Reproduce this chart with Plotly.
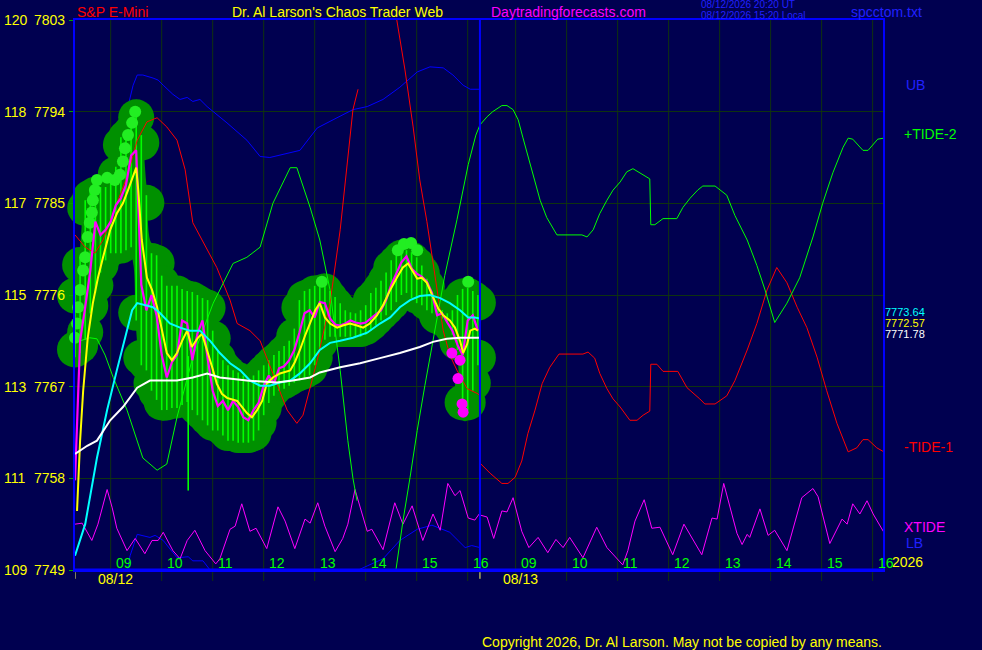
import plotly.graph_objects as go

# session clock (hours) -> axis position; 08/13 follows 08/12 directly
OPEN = 8.3
DAY2 = 7.94


def pos(hours, day=1):
    off = -OPEN + (DAY2 if day == 2 else 0.0)
    return [None if h is None else round(h + off, 3) for h in hours]


# ---- 08/12 bars (one every 6 minutes) ---------------------------------
bar_hours = [OPEN + 0.1 * i for i in range(80)]
bar_close = [7757.8, 7771.5, 7774.8, 7778.4, 7783.2, 7781.9, 7782.4, 7783.2, 7784.8, 7785.5,
             7786.8, 7789.7, 7790.2, 7777.0, 7774.5, 7776.0, 7774.0, 7770.1, 7767.9, 7769.4,
             7770.1, 7773.5, 7773.2, 7769.6, 7772.2, 7773.5, 7769.8, 7766.6, 7765.1, 7765.6,
             7764.7, 7765.6, 7765.0, 7764.0, 7763.7, 7764.7, 7765.4, 7767.1, 7768.1, 7767.3,
             7768.8, 7769.0, 7769.6, 7770.6, 7772.3, 7774.2, 7774.5, 7773.8, 7775.3, 7775.2,
             7773.7, 7773.1, 7773.0, 7773.2, 7773.5, 7773.3, 7773.2, 7773.3, 7773.7, 7774.1,
             7774.5, 7775.5, 7777.0, 7778.1, 7779.2, 7779.8, 7778.6, 7778.1, 7777.8, 7777.3,
             7776.2, 7774.0, 7774.2, 7773.3, 7772.5, 7771.1, 7770.1, 7773.5, 7774.0, 7772.5]
bar_high = [7777.7, 7780.7, 7786.3, 7787.3, 7787.6, 7787.6, 7787.6, 7788.0, 7789.6, 7792.5,
            7793.2, 7793.7, 7795.2, 7792.7, 7786.8, 7781.1, 7780.9, 7778.9, 7777.9, 7777.9,
            7777.9, 7777.6, 7777.4, 7777.3, 7777.0, 7776.7, 7776.5, 7773.5, 7771.5, 7770.6,
            7770.1, 7769.6, 7769.4, 7769.1, 7768.6, 7769.1, 7769.6, 7770.1, 7770.6, 7771.1,
            7771.5, 7772.0, 7772.5, 7773.7, 7776.5, 7777.4, 7777.6, 7777.9, 7777.9, 7778.1,
            7777.4, 7776.8, 7776.2, 7775.5, 7775.3, 7775.2, 7775.5, 7776.0, 7777.2, 7777.7,
            7778.4, 7779.2, 7780.4, 7780.9, 7781.4, 7781.4, 7781.2, 7780.7, 7779.9, 7778.6,
            7777.0, 7775.7, 7775.5, 7775.2, 7775.5, 7777.0, 7777.6, 7777.7, 7777.4, 7777.0]
bar_low = [7768.9, 7769.3, 7770.6, 7773.2, 7775.2, 7777.2, 7778.4, 7779.1, 7779.1, 7779.1,
           7779.4, 7779.7, 7772.5, 7768.1, 7767.6, 7765.6, 7764.7, 7763.7, 7763.7, 7763.9,
           7763.9, 7764.2, 7764.5, 7763.7, 7763.2, 7762.7, 7762.2, 7761.7, 7761.7, 7761.2,
           7760.7, 7760.7, 7760.5, 7760.5, 7760.5, 7760.7, 7761.7, 7763.2, 7764.4, 7765.1,
           7765.6, 7765.8, 7766.1, 7766.4, 7766.6, 7766.8, 7767.1, 7768.1, 7769.6, 7770.6,
           7770.9, 7770.9, 7770.9, 7770.9, 7770.9, 7770.9, 7770.9, 7771.1, 7771.5, 7772.0,
           7772.5, 7773.0, 7773.5, 7774.3, 7775.0, 7775.2, 7774.7, 7774.2, 7774.0, 7773.5,
           7773.2, 7773.0, 7772.7, 7772.3, 7771.1, 7769.6, 7763.7, 7763.7, 7765.6, 7768.1]

# bright "high" dots and recent-low dots
dot_hours = [8.26, 8.30, 8.34, 8.36, 8.40, 8.46, 8.50, 8.55, 8.59, 8.63, 8.65, 8.69, 8.73,
             8.93, 9.08, 9.18, 9.24, 9.28, 9.34, 9.42, 9.48, 13.14, 14.63, 14.75, 14.89,
             15.01, 16.01]
dot_price = [7770.9, 7771.8, 7773.2, 7774.8, 7776.5, 7778.4, 7779.7, 7781.7, 7783.1, 7784.1,
             7785.3, 7786.3, 7787.3, 7787.5, 7787.3, 7787.8, 7789.1, 7790.4, 7791.7, 7792.9,
             7794.0, 7777.3, 7780.4, 7781.0, 7781.1, 7780.4, 7777.3]
low_hours = [15.69, 15.85, 15.81, 15.89, 15.91]
low_price = [7770.3, 7769.6, 7767.8, 7765.3, 7764.5]
spike_hours = [10.52]
spike_low = [7756.8]
spike_high = [7770.0]

# ---- averages (08/12) --------------------------------------------------
yel_hours = [8.34, 8.40, 8.46, 8.55, 8.65, 8.75, 8.85, 8.99, 9.12, 9.24, 9.34, 9.44, 9.50,
             9.54, 9.61, 9.71, 9.81, 9.91, 10.01, 10.10, 10.20, 10.30, 10.40, 10.50, 10.59,
             10.71, 10.79, 10.89, 10.99, 11.08, 11.18, 11.28, 11.48, 11.67, 11.77, 11.87,
             11.97, 12.06, 12.18, 12.32, 12.52, 12.61, 12.71, 12.81, 12.91, 13.01, 13.10,
             13.20, 13.30, 13.44, 13.55, 13.69, 13.83, 13.95, 14.08, 14.22, 14.34, 14.48,
             14.61, 14.73, 14.83, 14.91, 15.01, 15.10, 15.20, 15.32, 15.42, 15.52, 15.65,
             15.75, 15.85, 15.91, 15.99, 16.05, 16.14, 16.20]
yel_price = [7754.8, 7761.7, 7766.6, 7771.8, 7775.2, 7777.7, 7779.7, 7782.4, 7784.0, 7785.0,
             7786.3, 7787.6, 7788.5, 7786.3, 7781.4, 7777.7, 7776.5, 7774.8, 7772.5, 7770.3,
             7769.6, 7770.3, 7771.5, 7772.5, 7770.9, 7771.8, 7772.2, 7770.6, 7768.9, 7767.3,
             7766.3, 7765.9, 7765.6, 7764.4, 7764.0, 7764.7, 7765.6, 7767.3, 7767.9, 7768.3,
             7768.6, 7769.4, 7770.6, 7772.0, 7773.3, 7774.5, 7775.2, 7773.8, 7773.2, 7772.8,
             7773.0, 7773.2, 7773.0, 7772.8, 7773.2, 7774.0, 7775.0, 7776.5, 7777.7, 7778.7,
             7779.1, 7778.4, 7777.6, 7777.7, 7777.2, 7775.8, 7774.7, 7774.0, 7773.5, 7772.8,
             7771.5, 7770.3, 7771.2, 7772.5, 7772.7, 7772.5]
cyan_hours = [8.30, 8.50, 8.73, 8.93, 9.12, 9.32, 9.42, 9.52, 9.71, 9.83, 9.97, 10.16, 10.36,
              10.55, 10.75, 10.95, 11.14, 11.34, 11.54, 11.73, 11.93, 12.12, 12.32, 12.52,
              12.71, 12.91, 13.10, 13.30, 13.50, 13.75, 14.03, 14.28, 14.48, 14.67, 14.87,
              15.06, 15.26, 15.46, 15.65, 15.85, 16.01, 16.14, 16.24]
cyan_price = [7750.4, 7753.5, 7760.0, 7764.7, 7768.6, 7772.5, 7774.5, 7775.2, 7775.0, 7774.8,
              7774.2, 7773.2, 7772.8, 7772.5, 7772.5, 7771.5, 7770.3, 7769.3, 7768.6, 7767.6,
              7767.1, 7767.1, 7767.4, 7767.6, 7768.3, 7769.3, 7770.6, 7771.3, 7771.5, 7771.8,
              7772.3, 7773.2, 7773.8, 7774.8, 7775.5, 7775.9, 7776.0, 7775.7, 7775.2, 7774.5,
              7773.8, 7773.8, 7773.7]
white_hours = [8.30, 8.54, 8.73, 8.99, 9.24, 9.52, 9.77, 10.30, 10.61, 10.89, 11.14, 11.67,
               12.26, 12.57, 12.91, 13.10, 13.50, 13.89, 14.28, 14.67, 15.06, 15.32, 15.59,
               15.85, 16.24]
white_price = [7760.4, 7761.2, 7761.7, 7763.7, 7765.0, 7766.9, 7767.6, 7767.6, 7767.9, 7768.3,
               7767.9, 7767.6, 7767.4, 7767.6, 7767.9, 7768.4, 7768.9, 7769.3, 7769.8, 7770.3,
               7770.9, 7771.4, 7771.7, 7771.8, 7771.8]

# ---- bands (08/12 only) --------------------------------------------------
ub_hours = [8.99, 9.18, 9.32, 9.44, 9.52, 9.63, 9.83, 9.93, 10.03, 10.22, 10.36, 10.50,
            10.61, 10.75, 10.89, 11.28, 11.67, 11.93, 12.12, 12.57, 12.71, 12.91, 13.05,
            13.36, 13.75, 14.03, 14.34, 14.67, 15.01, 15.26, 15.52, 15.71, 15.91, 16.05, 16.24]
ub_price = [7787.3, 7791.2, 7794.2, 7796.6, 7797.6, 7797.6, 7797.3, 7797.1, 7796.6, 7795.7,
            7795.2, 7795.4, 7795.0, 7795.2, 7794.5, 7792.9, 7791.2, 7789.6, 7789.5, 7790.0,
            7790.2, 7791.5, 7792.4, 7793.2, 7794.2, 7794.5, 7795.2, 7796.4, 7797.9, 7798.4,
            7798.3, 7797.6, 7796.6, 7796.2, 7796.2]
lb_hours = [9.32, 9.38, 9.52, 9.77, 9.87, 10.03, 10.30, 10.52, 10.61, 10.81, 11.04, 13.59,
            14.03, 14.34, 14.67, 15.01, 15.30, 15.65, 15.95, 16.08, 16.24]
lb_price = [7748.7, 7750.4, 7752.5, 7752.2, 7752.4, 7751.9, 7750.2, 7750.3, 7749.9, 7749.9,
            7748.4, 7748.4, 7749.4, 7750.1, 7751.9, 7753.0, 7753.4, 7752.7, 7751.2, 7751.4,
            7751.2]

# ---- tides ---------------------------------------------------------------
red1_hours = [8.30, 8.50, 8.69, 8.85, 9.12, 9.32, 9.52, 9.71, 9.91, 10.10, 10.30, 10.46,
              10.61, 10.85, 11.08, 11.34, 11.48, 11.73, 11.93, 12.18, 12.46, 12.65, 12.77,
              13.05, 13.30, 13.50, 13.65, 13.75, 13.85, None, 14.61, 14.77, 14.93, 15.06,
              15.20, 15.40, 15.52, 15.65, 15.79, 15.99, 16.20, 16.24]
red1_price = [7781.9, 7780.7, 7780.1, 7781.4, 7785.0, 7787.6, 7791.2, 7793.0, 7793.4, 7792.5,
              7791.2, 7788.3, 7783.1, 7780.9, 7778.7, 7775.5, 7773.2, 7772.5, 7771.5, 7768.3,
              7764.7, 7763.4, 7764.2, 7769.6, 7775.2, 7782.4, 7789.3, 7794.2, 7796.2, None,
              7803.0, 7798.1, 7792.5, 7787.3, 7783.2, 7776.8, 7772.5, 7770.1, 7768.6, 7766.8,
              7766.3, 7766.1]
red2_hours = [8.30, 8.50, 8.73, 8.85, 8.99, 9.12, 9.24, 9.38, 9.52, 9.67, 9.85, 10.32, 10.42,
              10.55, 10.65, 10.79, 10.91, 11.05, 11.24, 11.38, 11.50, 11.63, 11.65, 11.77,
              11.89, 12.18, 12.36, 12.61, 12.71, 12.91, 13.14, 13.30, 13.54, 13.73, 13.93,
              14.12, 14.32, 14.52, 14.71, 14.91, 15.10, 15.30, 15.52, 15.69, 15.81, 15.91,
              16.08, 16.22]
red2_price = [7759.5, 7758.5, 7757.5, 7757.5, 7758.1, 7759.7, 7762.4, 7764.7, 7767.3, 7768.9,
              7770.2, 7770.2, 7770.4, 7769.8, 7768.3, 7766.8, 7765.8, 7765.0, 7763.7, 7763.7,
              7764.2, 7764.6, 7769.2, 7769.2, 7768.5, 7768.5, 7766.9, 7765.8, 7765.3, 7765.3,
              7766.1, 7767.6, 7770.6, 7773.2, 7776.5, 7778.7, 7777.2, 7774.8, 7772.8, 7769.9,
              7766.6, 7763.4, 7760.6, 7761.0, 7761.8, 7761.8, 7761.0, 7760.6]
grn1_hours = [8.40, 8.59, 8.73, 8.89, 9.05, 9.32, 9.63, 9.91, 10.10, 10.30, 10.61, 11.01,
              11.40, 11.67, 11.93, 12.18, 12.52, 12.65, 12.91, 13.10, 13.30, 13.50, 13.65,
              13.75, 13.83, None, 14.59, 14.73, 14.87, 15.01, 15.16, 15.36, 15.55, 15.79,
              16.01, 16.16, 16.24]
grn1_price = [7771.5, 7771.8, 7771.7, 7770.1, 7767.9, 7764.7, 7760.0, 7758.8, 7759.4, 7764.0,
              7769.9, 7775.2, 7779.1, 7779.7, 7780.7, 7785.0, 7788.5, 7788.5, 7784.6, 7781.4,
              7776.5, 7768.6, 7761.7, 7758.0, 7755.8, None, 7748.9, 7753.8, 7758.1, 7762.7,
              7767.1, 7772.5, 7777.9, 7783.4, 7788.8, 7791.7, 7792.7]
grn2_hours = [8.30, 8.44, 8.55, 8.73, 8.83, 8.95, 9.05, 9.14, 9.28, 9.38, 9.48, 9.61, 9.81,
              10.30, 10.40, 10.52, 10.65, 10.79, 10.91, 11.05, 11.18, 11.30, 11.50, 11.63,
              11.65, 11.73, 11.89, 12.16, 12.28, 12.42, 12.57, 12.67, 12.91, 13.14, 13.30,
              13.54, 13.73, 13.89, 14.08, 14.32, 14.57, 14.83, 15.02, 15.22, 15.42, 15.52,
              15.61, 15.81, 15.91, 16.10, 16.22]
grn2_price = [7792.7, 7793.5, 7794.0, 7794.6, 7794.6, 7794.2, 7793.2, 7791.5, 7789.0, 7787.0,
              7785.3, 7783.6, 7781.9, 7781.9, 7781.7, 7782.4, 7784.0, 7785.3, 7786.3, 7787.1,
              7788.1, 7788.4, 7787.8, 7787.4, 7782.9, 7782.9, 7783.5, 7783.5, 7784.6, 7785.5,
              7786.3, 7786.7, 7786.7, 7785.8, 7783.8, 7781.4, 7778.9, 7776.5, 7773.3, 7775.2,
              7777.7, 7781.7, 7785.0, 7788.0, 7790.5, 7791.4, 7791.3, 7790.2, 7790.2, 7791.3,
              7791.4]
xt1_hours = [8.30, 8.44, 8.63, 8.75, 8.93, 9.03, 9.12, 9.32, 9.48, 9.67, 9.81, 9.93, 10.03,
             10.22, 10.36, 10.50, 10.65, 10.85, 11.06, 11.14, 11.34, 11.44, 11.57, 11.73,
             11.85, 12.06, 12.28, 12.42, 12.61, 12.81, 12.91, 13.06, 13.20, 13.40, 13.55,
             13.65, 13.79, 14.03, 14.12, 14.34, 14.57, 14.73, 14.91, 15.12, 15.32, 15.46,
             15.61, 15.75, 15.85, 16.01, 16.14, 16.24]
xt1_price = [7753.5, 7753.6, 7751.9, 7753.5, 7756.9, 7755.1, 7753.1, 7750.9, 7752.1, 7750.6,
             7751.9, 7751.9, 7752.7, 7750.9, 7750.1, 7751.9, 7752.9, 7750.9, 7749.6, 7750.1,
             7753.0, 7753.3, 7755.5, 7752.8, 7753.1, 7751.1, 7755.2, 7753.8, 7751.1, 7754.0,
             7753.6, 7755.6, 7753.3, 7750.8, 7752.1, 7753.5, 7756.9, 7752.8, 7753.0, 7751.0,
             7755.6, 7753.5, 7755.3, 7751.9, 7754.5, 7752.9, 7757.5, 7756.3, 7756.8, 7754.1,
             7753.9, 7754.6]
xt2_hours = [8.30, 8.44, 8.57, 8.73, 8.83, 8.95, 9.12, 9.26, 9.44, 9.63, 9.79, 9.93, 10.06,
             10.32, 10.59, 10.79, 11.10, 11.20, 11.34, 11.52, 11.67, 11.83, 12.08, 12.30,
             12.65, 12.85, 12.95, 13.08, 13.34, 13.44, 13.54, 13.59, 13.79, 13.95, 14.08,
             14.32, 14.61, 14.83, 14.93, 15.16, 15.40, 15.50, 15.61, 15.75, 15.89, 16.01, 16.22]
xt2_price = [7754.4, 7754.2, 7752.1, 7754.8, 7754.7, 7756.1, 7752.8, 7751.2, 7752.2, 7750.7,
             7752.0, 7751.2, 7752.2, 7750.2, 7753.2, 7751.2, 7749.5, 7750.9, 7753.8, 7755.9,
             7753.1, 7753.2, 7750.5, 7753.5, 7750.5, 7754.1, 7754.0, 7757.5, 7752.6, 7751.5,
             7752.5, 7752.2, 7755.0, 7752.4, 7752.9, 7750.9, 7756.1, 7757.0, 7756.2, 7751.6,
             7754.0, 7753.5, 7755.5, 7754.5, 7755.8, 7754.5, 7752.7]

# ---- axis text -----------------------------------------------------------
price_ticks = [7803, 7794, 7785, 7776, 7767, 7758, 7749]
alt_ticks = ["120", "118", "117", "115", "113", "111", "109"]
hour_marks = [9, 10, 11, 12, 13, 14, 15, 16]
last_values = ["7773.64", "7772.57", "7771.78"]

BG = "#000050"
DKGREEN = "#009000"
BLUE = "#0000ff"
GRID = "#0f320f"
FONT = "Liberation Sans, Arial, sans-serif"

fig = go.Figure()

# bands
fig.add_trace(go.Scatter(x=pos(ub_hours), y=ub_price, mode="lines", line=dict(color=BLUE, width=1)))
fig.add_trace(go.Scatter(x=pos(lb_hours), y=lb_price, mode="lines", line=dict(color=BLUE, width=1)))
# xtide
fig.add_trace(go.Scatter(x=pos(xt1_hours) + pos(xt2_hours, 2), y=xt1_price + xt2_price,
                         mode="lines", line=dict(color="#ff00ff", width=1)))

# bar envelope (dark green blobs)
tb = pos(bar_hours)
fig.add_trace(go.Scatter(x=tb, y=bar_high, mode="lines", line=dict(width=0, shape="spline")))
fig.add_trace(go.Scatter(x=tb, y=bar_low, mode="lines", line=dict(width=0, shape="spline"),
                         fill="tonexty", fillcolor=DKGREEN))
r = 1.75
fig.add_trace(go.Scatter(x=tb + tb, y=[v - r for v in bar_high] + [v + r for v in bar_low],
                         mode="markers", marker=dict(size=36, color=DKGREEN, line_width=0),
                         cliponaxis=False))

# tick spikes
sx, sy = [], []
for t, hi, lo in zip(tb, bar_high, bar_low):
    sx += [t, t, None]
    sy += [hi - 1.0, lo + 1.0, None]
for t, hi, lo in zip(pos(spike_hours), spike_high, spike_low):
    sx += [t, t, None]
    sy += [hi, lo, None]
fig.add_trace(go.Scatter(x=sx, y=sy, mode="lines", line=dict(color="#00ff00", width=1.6)))
fig.add_trace(go.Scatter(x=pos(dot_hours), y=dot_price, mode="markers",
                         marker=dict(size=12, color="#22ee22", line_width=0), cliponaxis=False))

# tides
fig.add_trace(go.Scatter(x=pos(red1_hours) + pos(red2_hours, 2), y=red1_price + red2_price,
                         mode="lines", line=dict(color="#ff0000", width=1)))
fig.add_trace(go.Scatter(x=pos(grn1_hours) + pos(grn2_hours, 2), y=grn1_price + grn2_price,
                         mode="lines", line=dict(color="#00ff00", width=1)))

# price and averages
fig.add_trace(go.Scatter(x=tb, y=bar_close, mode="lines", line=dict(color="#ff00ff", width=2.2)))
fig.add_trace(go.Scatter(x=pos(low_hours), y=low_price, mode="markers",
                         marker=dict(size=11, color="#ff00ff", line_width=0)))
fig.add_trace(go.Scatter(x=pos(yel_hours), y=yel_price, mode="lines", line=dict(color="#ffff00", width=2)))
fig.add_trace(go.Scatter(x=pos(cyan_hours), y=cyan_price, mode="lines", line=dict(color="#00ffff", width=2)))
fig.add_trace(go.Scatter(x=pos(white_hours), y=white_price, mode="lines", line=dict(color="#ffffff", width=2)))

# grid: hour lines for both sessions
shapes = []
for day in (1, 2):
    for x in pos(hour_marks, day):
        shapes.append(dict(type="line", xref="x", yref="paper", x0=x, x1=x, y0=-0.02, y1=1,
                           line=dict(color=GRID, width=1), layer="below"))
shapes.append(dict(type="line", xref="x", yref="paper", x0=DAY2, x1=DAY2, y0=0, y1=1,
                   line=dict(color=BLUE, width=2)))
shapes.append(dict(type="line", xref="paper", yref="paper", x0=0, x1=1, y0=0, y1=0,
                   line=dict(color=BLUE, width=3)))
for x in (0, DAY2):
    shapes.append(dict(type="line", xref="x", yref="paper", x0=x, x1=x, y0=-0.004, y1=-0.016,
                       line=dict(color="#ffff66", width=1)))


def px_ann(px, py, text, color, size=14):
    return dict(x=(px - 75) / 808, y=(570 - py) / 550, xref="paper", yref="paper", text=text,
                showarrow=False, xanchor="left", yanchor="middle",
                font=dict(family=FONT, size=size, color=color))


ann = [
    px_ann(75, 12, "S&P E-Mini", "#ff0000"),
    px_ann(230, 12, "Dr. Al Larson's Chaos Trader Web", "#ffff00"),
    px_ann(489, 12, "Daytradingforecasts.com", "#ff00ff"),
    px_ann(699, 5, "08/12/2026 20:20 UT", "#2020ff", 10),
    px_ann(699, 15, "08/12/2026 15:20 Local", "#2020ff", 10),
    px_ann(849, 12, "spcctom.txt", "#2020ff"),
    px_ann(904, 85, "UB", "#2020ff"),
    px_ann(902, 134, "+TIDE-2", "#00ff00"),
    px_ann(902, 447, "-TIDE-1", "#ff0000"),
    px_ann(902, 527, "XTIDE", "#ff00ff"),
    px_ann(904, 543, "LB", "#2020ff"),
    px_ann(890, 562, "2026", "#ffff00"),
    px_ann(883, 312, last_values[0], "#00ffff", 11),
    px_ann(883, 323, last_values[1], "#ffff00", 11),
    px_ann(883, 334, last_values[2], "#ffffff", 11),
    px_ann(96, 579, "08/12", "#ffff00"),
    px_ann(501, 579, "08/13", "#ffff00"),
    px_ann(480, 642, "Copyright 2026, Dr. Al Larson. May not be copied by any means.", "#ffff00"),
]
for p, a in zip(price_ticks, alt_ticks):
    for px, s in ((2, a), (32, str(p))):
        ann.append(dict(x=(px - 75) / 808, y=p, xref="paper", yref="y", text=s, showarrow=False,
                        xanchor="left", yanchor="middle", font=dict(family=FONT, size=14, color="#ffff00")))
for day in (1, 2):
    for h, x in zip(hour_marks, pos(hour_marks, day)):
        ann.append(dict(x=x, y=(570 - 563) / 550, xref="x", yref="paper", text="%02d" % h,
                        showarrow=False, xanchor="left", yanchor="middle", xshift=3,
                        font=dict(family=FONT, size=14, color="#00ff00")))

fig.update_xaxes(range=[0, 808 / 51], showgrid=False, zeroline=False, showticklabels=False,
                 showline=True, mirror=True, linecolor=BLUE, linewidth=2)
fig.update_yaxes(range=[7749, 7803], tickvals=price_ticks, showticklabels=False, showgrid=True,
                 gridcolor=GRID, zeroline=False, ticks="outside", ticklen=4, tickcolor="#00a000",
                 showline=True, mirror=True, linecolor=BLUE, linewidth=2)
fig.update_layout(width=982, height=650, margin=dict(l=75, r=99, t=20, b=80, autoexpand=False),
                  paper_bgcolor=BG, plot_bgcolor=BG, showlegend=False, hovermode=False,
                  shapes=shapes, annotations=ann)
fig.write_html("out.html", config={"displayModeBar": False},
               post_script="document.body.style.margin='0px';"
                           "document.body.style.backgroundColor='#000050';")
